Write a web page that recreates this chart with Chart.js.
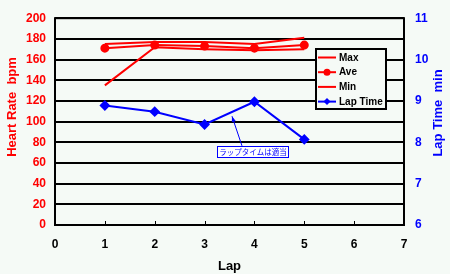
<!DOCTYPE html>
<html>
<head>
<meta charset="utf-8">
<script src="https://cdn.jsdelivr.net/npm/chart.js@4/dist/chart.umd.min.js"></script>
<style>
  html, body { margin: 0; padding: 0; background: #f5faf6; }
</style>
</head>
<body>
<canvas id="chart" width="450" height="274"></canvas>
<script>
// data
const laps = [1, 2, 3, 4, 5];
const hrMax = [175, 177, 177, 175, 181];
const hrAve = [171, 174, 173, 171, 174];
const hrMin = [135, 172, 170, 169, 170];
const lapTime = [8.89, 8.74, 8.43, 8.98, 8.07];

const xRange = [0, 7];
const hrRange = [0, 200];
const timeRange = [6, 11];

const noteText = "ラップタイムは適当";
const noteBox = [3.97, 7.78];   // x, lap time
const noteTip = [3.55, 8.63];

const BG = "#f5faf6";
const RED = "#ff0000";
const BLUE = "#0000ff";
const FONT = "'Liberation Sans', Arial, sans-serif";

function pts(ys) {
  return laps.map((x, i) => ({ x: x, y: ys[i] }));
}

// background, frame, tick marks, legend, side titles, note
const extras = {
  id: "extras",
  beforeDraw(chart) {
    const ctx = chart.ctx;
    ctx.save();
    ctx.fillStyle = BG;
    ctx.fillRect(0, 0, chart.width, chart.height);
    ctx.restore();
  },
  beforeDatasetsDraw(chart) {
    const ctx = chart.ctx;
    const a = chart.chartArea;
    const xs = chart.scales.x;
    ctx.save();
    ctx.strokeStyle = "#000";
    ctx.lineWidth = 2;
    ctx.strokeRect(a.left, a.top, a.right - a.left, a.bottom - a.top);
    ctx.lineWidth = 1;
    for (let v = xRange[0] + 1; v < xRange[1]; v++) {
      const px = Math.round(xs.getPixelForValue(v)) + 0.5;
      ctx.beginPath();
      ctx.moveTo(px, a.bottom);
      ctx.lineTo(px, a.bottom - 4);
      ctx.stroke();
    }
    ctx.restore();
  },
  afterDraw(chart) {
    const ctx = chart.ctx;
    ctx.save();

    // vertical axis titles, both reading upwards
    ctx.font = "bold 13px " + FONT;
    ctx.textAlign = "center";
    ctx.textBaseline = "middle";
    ctx.save();
    ctx.translate(12, 107);
    ctx.rotate(-Math.PI / 2);
    ctx.fillStyle = RED;
    ctx.fillText("Heart Rate  bpm", 0, 0);
    ctx.restore();
    ctx.save();
    ctx.translate(438, 113);
    ctx.rotate(-Math.PI / 2);
    ctx.fillStyle = BLUE;
    ctx.fillText("Lap Time  min", 0, 0);
    ctx.restore();

    // legend box
    const lx = 316, ly = 49, lw = 70, lh = 60;
    ctx.fillStyle = BG;
    ctx.fillRect(lx, ly, lw, lh);
    ctx.strokeStyle = "#000";
    ctx.lineWidth = 2;
    ctx.strokeRect(lx, ly, lw, lh);
    ctx.font = "bold 10px " + FONT;
    ctx.textAlign = "left";
    ctx.textBaseline = "middle";
    chart.data.datasets.forEach((ds, i) => {
      const y = ly + 8.5 + i * 14.7;
      ctx.strokeStyle = ds.borderColor;
      ctx.lineWidth = 2;
      ctx.beginPath();
      ctx.moveTo(lx + 2, y);
      ctx.lineTo(lx + 20, y);
      ctx.stroke();
      if (ds.pointRadius > 0) {
        ctx.fillStyle = ds.borderColor;
        ctx.beginPath();
        if (ds.pointStyle === "rectRot") {
          const r = 3.5;
          ctx.moveTo(lx + 11, y - r);
          ctx.lineTo(lx + 11 + r, y);
          ctx.lineTo(lx + 11, y + r);
          ctx.lineTo(lx + 11 - r, y);
          ctx.closePath();
        } else {
          ctx.arc(lx + 11, y, 3.5, 0, Math.PI * 2);
        }
        ctx.fill();
      }
      ctx.fillStyle = "#000";
      ctx.fillText(ds.label, lx + 23, y + 0.5);
    });

    // note with arrow
    const xs = chart.scales.x, ys = chart.scales.y1;
    const bx = xs.getPixelForValue(noteBox[0]);
    const by = ys.getPixelForValue(noteBox[1]);
    const tx = xs.getPixelForValue(noteTip[0]);
    const ty = ys.getPixelForValue(noteTip[1]);
    ctx.font = "7.5px 'Noto Sans CJK JP', sans-serif";
    const tw = ctx.measureText(noteText).width;
    const bw = tw + 4, bh = 11;
    ctx.fillStyle = "#ffffff";
    ctx.fillRect(bx - bw / 2, by - bh / 2, bw, bh);
    ctx.strokeStyle = BLUE;
    ctx.lineWidth = 1;
    ctx.strokeRect(Math.round(bx - bw / 2) + 0.5, Math.round(by - bh / 2) + 0.5, Math.round(bw), bh);
    ctx.fillStyle = BLUE;
    ctx.textAlign = "center";
    ctx.textBaseline = "middle";
    ctx.fillText(noteText, bx, by + 0.5);

    const sx = tx + 10, sy = by - bh / 2;
    ctx.beginPath();
    ctx.moveTo(sx, sy);
    ctx.lineTo(tx, ty);
    ctx.stroke();
    const ang = Math.atan2(ty - sy, tx - sx);
    ctx.beginPath();
    ctx.moveTo(tx, ty);
    ctx.lineTo(tx - 6 * Math.cos(ang - 0.35), ty - 6 * Math.sin(ang - 0.35));
    ctx.lineTo(tx - 6 * Math.cos(ang + 0.35), ty - 6 * Math.sin(ang + 0.35));
    ctx.closePath();
    ctx.fill();

    ctx.restore();
  }
};

new Chart(document.getElementById("chart"), {
  type: "line",
  data: {
    datasets: [
      { label: "Max", data: pts(hrMax), yAxisID: "y", borderColor: RED, backgroundColor: RED,
        borderWidth: 2, pointRadius: 0 },
      { label: "Ave", data: pts(hrAve), yAxisID: "y", borderColor: RED, backgroundColor: RED,
        borderWidth: 2, pointRadius: 3.5, pointStyle: "circle" },
      { label: "Min", data: pts(hrMin), yAxisID: "y", borderColor: RED, backgroundColor: RED,
        borderWidth: 2, pointRadius: 0 },
      { label: "Lap Time", data: pts(lapTime), yAxisID: "y1", borderColor: BLUE, backgroundColor: BLUE,
        borderWidth: 2, pointRadius: 4, pointStyle: "rectRot" }
    ]
  },
  options: {
    responsive: false,
    animation: false,
    layout: { padding: { top: 10, left: 0, right: 0, bottom: 0 } },
    plugins: { legend: { display: false }, tooltip: { enabled: false } },
    elements: { line: { tension: 0 } },
    scales: {
      x: {
        type: "linear",
        min: xRange[0], max: xRange[1],
        border: { display: false },
        grid: { display: false, drawTicks: false },
        ticks: { stepSize: 1, color: "#000", padding: 12, font: { family: FONT, size: 12, weight: "bold" } },
        title: { display: true, text: "Lap", color: "#000", padding: { top: 0, bottom: 0 },
          font: { family: FONT, size: 13, weight: "bold" } },
        afterFit(s) { s.height = 49; }
      },
      y: {
        position: "left",
        min: hrRange[0], max: hrRange[1],
        border: { display: false },
        grid: { color: "#000", lineWidth: 2, drawTicks: false },
        ticks: { stepSize: 20, color: RED, padding: 9, font: { family: FONT, size: 12, weight: "bold" } },
        afterFit(s) { s.width = 55; }
      },
      y1: {
        position: "right",
        min: timeRange[0], max: timeRange[1],
        border: { display: false },
        grid: { drawOnChartArea: false, drawTicks: false },
        ticks: { stepSize: 1, color: BLUE, padding: 11, font: { family: FONT, size: 12, weight: "bold" } },
        afterFit(s) { s.width = 46; }
      }
    }
  },
  plugins: [extras]
});
</script>
</body>
</html>
